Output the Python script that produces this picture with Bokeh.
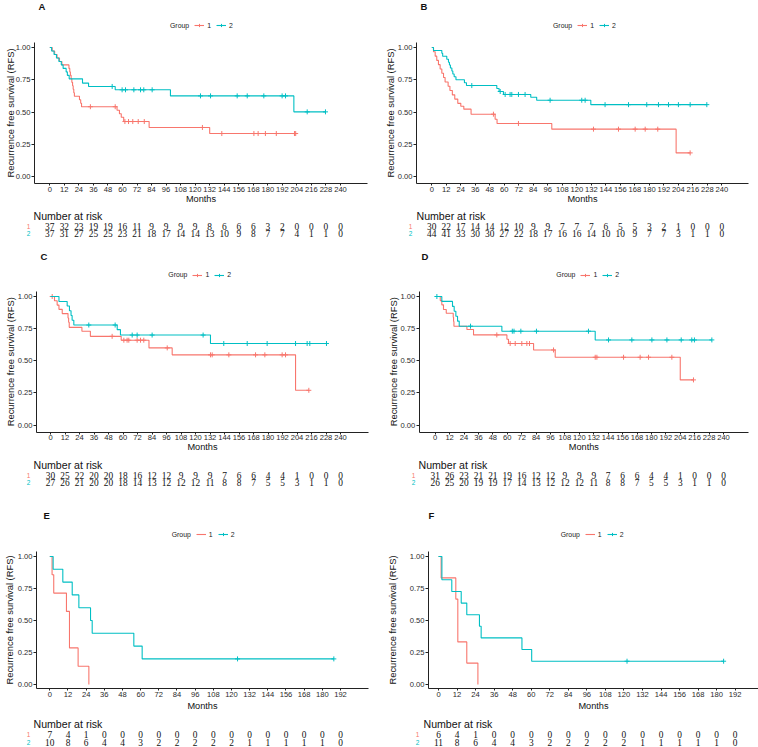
import math
import numpy as np
from bokeh.plotting import figure
from bokeh.layouts import column, row
from bokeh.models import Range1d, FixedTicker, NumeralTickFormatter, Legend, LegendItem
from bokeh.core.properties import value
from bokeh.embed import file_html
from bokeh.resources import INLINE

RED = "#F8766D"
TEAL = "#00BFC4"
FONT = "Liberation Sans"
NUMFONT = "Liberation Sans Narrow"

# ------------------------------------------------------------------ data
risk_times_long = list(range(0, 241, 12))
risk_times_short = list(range(0, 193, 12))

A_t1 = [0, 2, 4, 6, 8, 10, 15.8, 16.5, 17, 17.6, 18.2, 18.8, 19.3, 19.8, 20.3, 24.5, 25.5, 26.2, 55.5, 57.5, 59, 61, 82, 132]
A_s1 = [1, 0.973, 0.946, 0.919, 0.892, 0.865, 0.838, 0.811, 0.784, 0.757, 0.730, 0.703, 0.676, 0.649, 0.622, 0.595, 0.568, 0.541, 0.514, 0.486, 0.459, 0.426, 0.38, 0.333]
A_c1 = [33.5, 54, 62, 65, 68.5, 73, 78, 126, 142, 168.5, 172, 178, 187, 202, 203]
A_t2 = [0, 1.5, 3.5, 5.5, 7.5, 9.5, 11, 13.5, 14.5, 16, 27, 32, 54, 99.6, 201.5]
A_s2 = [1, 0.973, 0.946, 0.919, 0.892, 0.865, 0.838, 0.811, 0.784, 0.757, 0.724, 0.698, 0.672, 0.625, 0.501]
A_c2 = [51.5, 59.7, 62.5, 69.4, 74.9, 77.6, 84.5, 124.4, 132.7, 154.7, 163, 176.7, 191.8, 194.6, 212.5, 227.6]
A_risk1 = [37, 32, 23, 19, 19, 16, 11, 9, 9, 9, 9, 8, 6, 6, 6, 3, 2, 0, 0, 0, 0]
A_risk2 = [37, 31, 27, 25, 25, 23, 21, 18, 17, 14, 14, 13, 10, 9, 8, 7, 7, 4, 1, 1, 0]

B_t1 = [0, 1.4, 2.8, 4.1, 5.5, 6.9, 8.3, 9.7, 11, 13.5, 15, 17, 19, 21.5, 24, 26.5, 32.5, 52.4, 54, 99.3, 202.2]
B_s1 = [1, 0.967, 0.933, 0.9, 0.867, 0.833, 0.8, 0.767, 0.733, 0.7, 0.667, 0.633, 0.6, 0.567, 0.545, 0.522, 0.483, 0.444, 0.411, 0.367, 0.183]
B_c1 = [51, 71.7, 133.8, 154.5, 168.3, 176.6, 187, 213.8]
B_t2 = [0, 1.4, 8.3, 9, 12.4, 13.8, 14.6, 15.4, 16.6, 17.4, 18.5, 20, 27, 28.7, 53.8, 55.7, 59.3, 81.9, 86.8, 131.6]
B_s2 = [1, 0.977, 0.955, 0.932, 0.909, 0.886, 0.864, 0.841, 0.818, 0.795, 0.773, 0.75, 0.727, 0.705, 0.682, 0.659, 0.636, 0.614, 0.591, 0.557]
B_c2 = [33.1, 56.6, 60.7, 64.8, 66.2, 71.7, 77.2, 97.9, 124.1, 126.9, 143.4, 162.8, 177.9, 187.6, 195.9, 204.1, 213.8, 227.6]
B_risk1 = [30, 22, 17, 14, 14, 12, 10, 9, 9, 7, 7, 7, 6, 5, 5, 3, 2, 1, 0, 0, 0]
B_risk2 = [44, 41, 33, 30, 30, 27, 22, 18, 17, 16, 16, 14, 10, 10, 9, 7, 7, 3, 1, 1, 0]

C_t1 = [0, 3.3, 5.5, 7, 9.7, 14.5, 15, 15.5, 26, 33, 58.5, 81.5, 100.7, 202.8]
C_s1 = [1, 0.967, 0.933, 0.9, 0.867, 0.833, 0.8, 0.76, 0.73, 0.69, 0.66, 0.6, 0.546, 0.27]
C_c1 = [1.4, 51, 60.7, 63.4, 64.8, 71.7, 74.5, 77.2, 96.6, 132.4, 133.8, 147.6, 169.7, 177.4, 191.7, 194.5, 213.8]
C_t2 = [0, 7, 13.8, 15.7, 17, 17.9, 19.3, 55.2, 57.9, 132.4]
C_s2 = [1, 0.961, 0.926, 0.889, 0.852, 0.815, 0.778, 0.742, 0.7, 0.634]
C_c2 = [31.7, 53.5, 67.6, 71.7, 84.1, 126.3, 143.4, 162.8, 179.3, 202.8, 212.4, 214.6, 228.4]
C_risk1 = [30, 25, 22, 20, 20, 18, 16, 12, 12, 9, 9, 9, 7, 6, 6, 4, 4, 1, 0, 0, 0]
C_risk2 = [27, 26, 21, 20, 20, 18, 14, 13, 12, 12, 12, 11, 8, 8, 7, 5, 5, 3, 1, 1, 0]

D_t1 = [0, 4.2, 5.5, 6.9, 9.2, 15, 15.3, 15.6, 26.4, 31.9, 59.7, 61, 81.9, 99.9, 204]
D_s1 = [1, 0.968, 0.935, 0.899, 0.87, 0.839, 0.806, 0.769, 0.743, 0.701, 0.667, 0.634, 0.584, 0.527, 0.351]
D_c1 = [51.3, 62.4, 66.6, 72.1, 76.3, 78.5, 98.5, 133.2, 134.6, 156.8, 170.6, 177.6, 197, 215]
D_t2 = [0, 5.5, 14.4, 15.8, 17.2, 18.6, 20, 55.5, 133.2]
D_s2 = [1, 0.962, 0.923, 0.885, 0.846, 0.808, 0.769, 0.73, 0.662]
D_c2 = [1.4, 29.4, 64.2, 65.6, 71.3, 84.3, 127.6, 144.3, 163.7, 180.4, 192.9, 204.8, 213.6, 215.8, 230.3]
D_risk1 = [31, 26, 23, 21, 21, 19, 16, 12, 12, 9, 9, 9, 7, 6, 6, 4, 4, 1, 0, 0, 0]
D_risk2 = [26, 25, 20, 19, 19, 17, 14, 13, 12, 12, 12, 11, 8, 8, 7, 5, 5, 3, 1, 1, 0]

E_t1 = [0, 1.5, 2.6, 11, 13, 18.7, 25.8]
E_s1 = [1, 0.857, 0.714, 0.571, 0.286, 0.143, 0]
E_c1 = []
E_t2 = [0, 2.2, 8.6, 14.8, 19.2, 26.9, 28, 55.5, 61]
E_s2 = [1, 0.9, 0.8, 0.7, 0.6, 0.5, 0.4, 0.3, 0.2]
E_c2 = [124, 187.6]
E_risk1 = [7, 4, 1, 0, 0, 0, 0, 0, 0, 0, 0, 0, 0, 0, 0, 0, 0]
E_risk2 = [10, 8, 6, 4, 4, 3, 2, 2, 2, 2, 2, 1, 1, 1, 1, 1, 0]

F_t1 = [0, 1.7, 11.2, 12.5, 18.3, 25.5]
F_s1 = [1, 0.833, 0.667, 0.333, 0.167, 0]
F_c1 = []
F_t2 = [0, 2.2, 8.6, 14.7, 18.3, 26.5, 27.6, 54, 60.3]
F_s2 = [1, 0.818, 0.727, 0.636, 0.545, 0.455, 0.364, 0.273, 0.182]
F_c2 = [122, 184.5]
F_risk1 = [6, 4, 1, 0, 0, 0, 0, 0, 0, 0, 0, 0, 0, 0, 0, 0, 0]
F_risk2 = [11, 8, 6, 4, 4, 3, 2, 2, 2, 2, 2, 1, 1, 1, 1, 1, 0]

PANELS = {
    "A": (A_t1, A_s1, A_c1, A_t2, A_s2, A_c2, A_risk1, A_risk2, risk_times_long),
    "B": (B_t1, B_s1, B_c1, B_t2, B_s2, B_c2, B_risk1, B_risk2, risk_times_long),
    "C": (C_t1, C_s1, C_c1, C_t2, C_s2, C_c2, C_risk1, C_risk2, risk_times_long),
    "D": (D_t1, D_s1, D_c1, D_t2, D_s2, D_c2, D_risk1, D_risk2, risk_times_long),
    "E": (E_t1, E_s1, E_c1, E_t2, E_s2, E_c2, E_risk1, E_risk2, risk_times_short),
    "F": (F_t1, F_s1, F_c1, F_t2, F_s2, F_c2, F_risk1, F_risk2, risk_times_short),
}

# ------------------------------------------------------------------ layout (page pixel geometry)
LAY = {
    "A": dict(col=0, row=0, axis=34, end=367, t0=49.3, tn_px=340.0, tn=240, leg=170, let=38, ylab=10, nar=33, rl=28),
    "B": dict(col=1, row=0, axis=416, end=748, t0=431.3, tn_px=721.3, tn=240, leg=553, let=420, ylab=390, nar=416, rl=410),
    "C": dict(col=0, row=1, axis=36, end=368, t0=50, tn_px=340, tn=240, leg=168.3, let=40, ylab=10, nar=33, rl=28),
    "D": dict(col=1, row=1, axis=418.7, end=748, t0=434.7, tn_px=723, tn=240, leg=556.3, let=421, ylab=393, nar=418, rl=413),
    "E": dict(col=0, row=2, axis=36, end=368, t0=49.3, tn_px=340, tn=192, leg=171.7, let=43, ylab=9, nar=33, rl=28),
    "F": dict(col=1, row=2, axis=428, end=758, t0=438, tn_px=734.7, tn=192, leg=560.7, let=428, ylab=392, nar=423, rl=417),
}
ROWS = [
    dict(top=0, bot=245, xax=183, one=47, zero=176, leg=23, let=6, months=198, nar=215, r1=226, r2=233),
    dict(top=245, bot=497, xax=431.5, one=296, zero=424.5, leg=272.5, let=256, months=446.5, nar=464, r1=474.5, r2=481.5),
    dict(top=497, bot=747, xax=688, one=556, zero=684, leg=532, let=515, months=705, nar=723, r1=734, r2=741.5),
]
W = 379
GW, GS = 10, 3


def step_y(t, s, c):
    t = np.asarray(t, float)
    idx = np.searchsorted(t, np.asarray(c, float), side="right") - 1
    return [float(np.asarray(s)[i]) for i in idx]


def make_panel(key):
    t1, s1, c1, t2, s2, c2, rk1, rk2, rtimes = PANELS[key]
    L = LAY[key]
    R = ROWS[L["row"]]
    cell_left = 0 if L["col"] == 0 else 379
    ppm = (L["tn_px"] - L["t0"]) / L["tn"]          # pixels per month
    xs = (L["axis"] - L["t0"]) / ppm                # where the y axis sits (months)
    xe = (L["end"] - L["t0"]) / ppm                 # where the x axis ends (months)
    xr0 = (cell_left - L["t0"]) / ppm
    xr1 = (cell_left + W - L["t0"]) / ppm

    top, bot = R["top"], R["bot"]
    H = bot - top
    ppu = R["zero"] - R["one"]                      # pixels per survival unit
    py = lambda px: (R["zero"] - px) / ppu          # page y -> data y
    px_ = lambda x: (x - L["t0"]) / ppm             # page x -> data x
    ys = py(R["xax"])

    p = figure(width=W, height=H, x_range=Range1d(xr0, xr1), y_range=Range1d(py(bot), py(top)),
               min_border=0, output_backend="svg", toolbar_location=None)
    p.xgrid.visible = False
    p.ygrid.visible = False
    p.outline_line_color = None
    p.xaxis.ticker = FixedTicker(ticks=list(range(0, L["tn"] + 1, 12)))
    p.yaxis.ticker = FixedTicker(ticks=[0, 0.25, 0.5, 0.75, 1.0])
    p.yaxis.formatter = NumeralTickFormatter(format="0.00")
    p.yaxis.fixed_location = xs
    p.xaxis.fixed_location = ys
    p.yaxis.bounds = (ys, 1.04)
    p.xaxis.bounds = (xs, xe)
    for ax in (p.xaxis[0], p.yaxis[0]):
        ax.axis_line_color = "#222222"
        ax.axis_line_width = 1
        ax.major_tick_line_color = "#222222"
        ax.minor_tick_line_color = None
        ax.major_tick_in = 0
        ax.major_label_text_font_size = "7.6px"
        ax.major_label_text_color = "#2a2a2a"
        ax.major_label_text_font = FONT
    p.xaxis.major_tick_out = 2
    p.xaxis.major_label_standoff = 1
    p.yaxis.major_tick_out = 3
    p.yaxis.major_label_standoff = 1

    # axis titles
    p.text(x=[px_(L["ylab"])], y=[py((R["xax"] + R["one"] - 5) / 2)], text=["Recurrence free survival (RFS)"],
           angle=math.pi / 2, text_align="center", text_baseline="middle",
           text_font_size="9.4px", text_font=value(FONT), text_color="#111111")
    p.text(x=[(xs + xe) / 2], y=[py(R["months"])], text=["Months"], text_align="center",
           text_baseline="middle", text_font_size="9.2px", text_font=value(FONT), text_color="#111111")

    rends = []
    for t, s, c, col in ((t1, s1, c1, RED), (t2, s2, c2, TEAL)):
        end = max([t[-1]] + list(c))
        xx = list(t) + [end]
        yy = list(s) + [s[-1]]
        ln = p.step(xx, yy, mode="after", line_color=col, line_width=1.1)
        cy = step_y(t, s, c) if len(c) else []
        sc = p.scatter(list(c), cy, marker="cross", size=5, line_color=col, line_width=1)
        rends.append((ln, sc))

    dummy = p.line([], [], line_alpha=0)
    leg = Legend(items=[LegendItem(label="Group", renderers=[dummy]),
                        LegendItem(label="1", renderers=list(rends[0])),
                        LegendItem(label="2", renderers=list(rends[1]))],
                 orientation="horizontal", padding=0, margin=0, spacing=5,
                 glyph_width=GW, glyph_height=8, label_standoff=GS,
                 label_height=8, label_width=1,
                 label_text_font_size="6.9px", label_text_font=FONT, label_text_color="#222222",
                 border_line_color=None, background_fill_alpha=0)
    leg.location = (L["leg"] - cell_left - GW - GS, bot - R["leg"] - 6)
    p.add_layout(leg)

    # panel letter
    p.text(x=[px_(L["let"])], y=[py(R["let"])], text=[key], text_baseline="middle", text_align="left",
           text_font_size="9.5px", text_font_style="bold", text_font=value(FONT), text_color="#111111")

    # number-at-risk table
    n = len(rtimes)
    p.text(x=[px_(L["nar"])], y=[py(R["nar"])], text=["Number at risk"], text_align="left",
           text_baseline="middle", text_font_size="10.6px", text_font=value(FONT), text_color="#111111")
    for rr, rk, col, lab in ((R["r1"], rk1, RED, "1"), (R["r2"], rk2, TEAL, "2")):
        p.text(x=rtimes, y=[py(rr)] * n, text=[str(v) for v in rk], text_align="center",
               text_baseline="middle", text_font_size="9.4px", text_font=value(NUMFONT),
               text_color="#111111")
        p.text(x=[px_(L["rl"])], y=[py(rr)], text=[lab], text_color=col, text_align="center",
               text_baseline="middle", text_font_size="6.5px", text_font=value(FONT))
    return p


layout = column(
    row(make_panel("A"), make_panel("B")),
    row(make_panel("C"), make_panel("D")),
    row(make_panel("E"), make_panel("F")),
)

open("out.html", "w").write(file_html(layout, INLINE))
